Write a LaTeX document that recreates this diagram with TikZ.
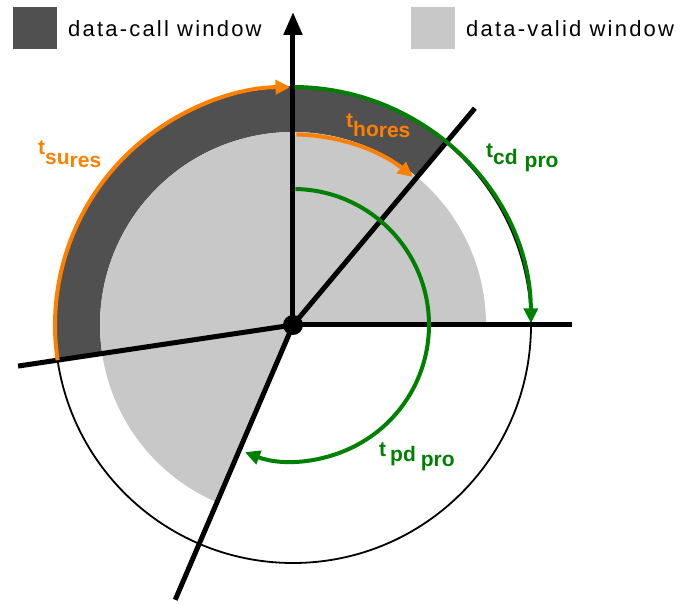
\documentclass[tikz,border=0pt]{standalone}
\usepackage{fontspec}
\setmainfont{Liberation Sans}
\newfontfamily\legendfont[LetterSpace=10]{Liberation Sans}
\usetikzlibrary{arrows.meta}
\definecolor{callgray}{RGB}{80,80,80}
\definecolor{validgray}{RGB}{200,200,200}
\definecolor{torange}{RGB}{255,128,0}
\definecolor{tgreen}{RGB}{0,128,0}
\tikzset{
  axis/.style={line width=5pt, black},
  rim/.style={line width=1.8pt, black},
  timearc/.style={line width=4pt},
  tip/.style={-{Triangle[length=15pt,width=14pt]}},
  lbl/.style={anchor=base west, inner sep=0pt, font=\fontsize{21}{24}\selectfont\bfseries},
  legendtext/.style={anchor=base west, inner sep=0pt, font=\fontsize{22}{26}\selectfont\legendfont},
}
\newcommand{\lo}[2]{\raisebox{-#1pt}{#2}}
\begin{document}
\begin{tikzpicture}[x=1pt,y=1pt]
  \useasboundingbox (-293,-279) rectangle (388,325);
  \coordinate (O) at (0,0);

  % data-call window: annulus between the valid disc and the rim
  \fill[callgray] (50:193) arc[start angle=50,end angle=188.5,radius=193]
     -- (188.5:238) arc[start angle=188.5,end angle=50,radius=238] -- cycle;
  % data-valid window: sector of the inner disc
  \fill[validgray] (O) -- (0:193) arc[start angle=0,end angle=246.8,radius=193] -- cycle;

  % rim
  \draw[rim] (O) circle[radius=238];

  % axes
  \coordinate (up) at (0,313);
  \coordinate (right) at (279,0);
  \coordinate (diag) at (50:283);
  \coordinate (left) at (188.5:278);
  \coordinate (down) at (246.8:299);
  \draw[axis] (O) -- (right);
  \draw[axis] (O) -- (diag);
  \draw[axis] (O) -- (left);
  \draw[axis] (O) -- (down);
  \draw[axis, -{Triangle[length=23pt,width=18pt]}] (O) -- (up);

  % timing arcs
  \draw[timearc, torange, tip] (188.5:238) arc[start angle=188.5,end angle=90.6,radius=238];
  \draw[timearc, tgreen, tip] (89.6:238) arc[start angle=89.6,end angle=0.4,radius=238];
  \draw[timearc, torange, tip] (89:190.5) arc[start angle=89,end angle=51,radius=190.5];
  \draw[timearc, tgreen, tip] (89:136) arc[start angle=89,end angle=-110.7,radius=136];

  \fill[black] (O) circle[radius=10];

  % labels
  \node[lbl, torange] (tsu) at (-255,170) {t\lo{10}{su}\lo{13}{res}};
  \node[lbl, torange] (tho) at (53,197) {t\lo{9}{ho}\lo{9.5}{res}};
  \node[lbl, tgreen] (tcd) at (193,167) {t\lo{7}{cd}\hspace{7pt}\lo{10}{pro}};
  \node[lbl, tgreen] (tpd) at (86,-132) {t\hspace{4pt}\lo{5}{pd}\hspace{5pt}\lo{10}{pro}};

  % legend
  \fill[callgray] (-280,276) rectangle (-236,318);
  \node[legendtext] (lcall) at (-225,288) {data-call window};
  \fill[validgray] (118,276) rectangle (162,318);
  \node[legendtext] (lvalid) at (173,288) {data-valid window};
\end{tikzpicture}
\end{document}
